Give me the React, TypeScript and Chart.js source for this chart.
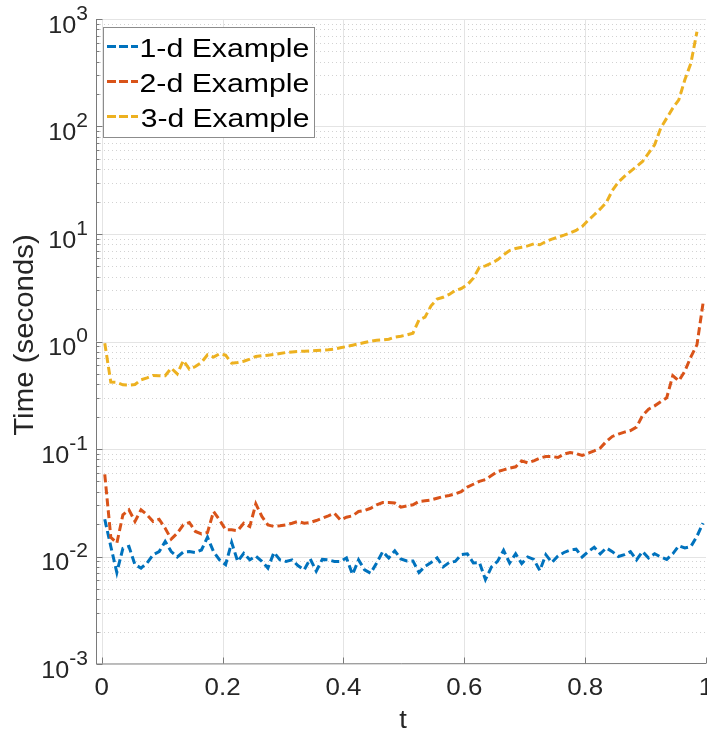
import React, { useEffect, useRef } from "react";
import { Chart, registerables } from "chart.js";

Chart.register(...registerables);

const tValues = [
  0.005, 0.015, 0.025, 0.035, 0.045, 0.055, 0.065, 0.075, 0.085, 0.095,
  0.105, 0.115, 0.125, 0.135, 0.145, 0.155, 0.165, 0.175, 0.185, 0.195,
  0.205, 0.215, 0.225, 0.235, 0.245, 0.255, 0.265, 0.275, 0.285, 0.295,
  0.305, 0.315, 0.325, 0.335, 0.345, 0.355, 0.365, 0.375, 0.385, 0.395,
  0.405, 0.415, 0.425, 0.435, 0.445, 0.455, 0.465, 0.475, 0.485, 0.495,
  0.505, 0.515, 0.525, 0.535, 0.545, 0.555, 0.565, 0.575, 0.585, 0.595,
  0.605, 0.615, 0.625, 0.635, 0.645, 0.655, 0.665, 0.675, 0.685, 0.695,
  0.705, 0.715, 0.725, 0.735, 0.745, 0.755, 0.765, 0.775, 0.785, 0.795,
  0.805, 0.815, 0.825, 0.835, 0.845, 0.855, 0.865, 0.875, 0.885, 0.895,
  0.905, 0.915, 0.925, 0.935, 0.945, 0.955, 0.965, 0.975, 0.985, 0.995,
];

const series1d = [
  0.0222, 0.0124, 0.0071, 0.0119, 0.0124, 0.0084, 0.0078, 0.0087, 0.0104, 0.0111,
  0.0138, 0.0111, 0.0099, 0.011, 0.0111, 0.0109, 0.0115, 0.0151, 0.0111, 0.0093,
  0.0084, 0.0135, 0.009, 0.0107, 0.0093, 0.0101, 0.009, 0.0078, 0.0109, 0.0093,
  0.009, 0.0093, 0.0082, 0.0075, 0.0095, 0.0073, 0.0094, 0.0093, 0.009, 0.009,
  0.0097, 0.0068, 0.0093, 0.0075, 0.007, 0.0087, 0.0111, 0.0097, 0.0113, 0.0095,
  0.0091, 0.0091, 0.0071, 0.0081, 0.0088, 0.0097, 0.008, 0.0088, 0.009, 0.0104,
  0.0106, 0.0087, 0.0088, 0.0061, 0.008, 0.009, 0.0114, 0.0087, 0.0106, 0.0086,
  0.0099, 0.0094, 0.0074, 0.0104, 0.0088, 0.0101, 0.0109, 0.0115, 0.0117, 0.0099,
  0.0111, 0.0122, 0.0106, 0.012, 0.0111, 0.01, 0.0104, 0.0111, 0.0093, 0.0111,
  0.0097, 0.0106, 0.0099, 0.0094, 0.0106, 0.0126, 0.012, 0.0124, 0.0154, 0.0204,
];

const series2d = [
  0.058, 0.0151, 0.0133, 0.0244, 0.0272, 0.0212, 0.0272, 0.0244, 0.0212, 0.0222,
  0.0183, 0.0145, 0.0165, 0.0197, 0.0207, 0.0171, 0.0162, 0.0167, 0.0262, 0.0219,
  0.0177, 0.0177, 0.0174, 0.0204, 0.019, 0.0309, 0.0236, 0.0197, 0.019, 0.0193,
  0.0197, 0.0204, 0.0212, 0.0204, 0.0207, 0.0216, 0.0227, 0.0239, 0.0253, 0.0219,
  0.0232, 0.0239, 0.0262, 0.0268, 0.0281, 0.0303, 0.0318, 0.0318, 0.0314, 0.0288,
  0.0296, 0.0303, 0.0325, 0.033, 0.0336, 0.0348, 0.0361, 0.0369, 0.0383, 0.0402,
  0.0442, 0.047, 0.05, 0.052, 0.0567, 0.0617, 0.064, 0.0663, 0.0683, 0.0776,
  0.0744, 0.0776, 0.0822, 0.0852, 0.0852, 0.0834, 0.0895, 0.0928, 0.0907, 0.087,
  0.0914, 0.0962, 0.102, 0.1175, 0.1308, 0.1375, 0.1434, 0.1486, 0.1596, 0.205,
  0.235, 0.252, 0.275, 0.3, 0.48, 0.43, 0.53, 0.72, 0.93, 2.25,
];

const series3d = [
  0.965, 0.419, 0.416, 0.395, 0.393, 0.398, 0.44, 0.459, 0.483, 0.48,
  0.48, 0.565, 0.5, 0.666, 0.553, 0.585, 0.638, 0.751, 0.715, 0.768,
  0.746, 0.629, 0.638, 0.656, 0.685, 0.725, 0.736, 0.746, 0.757, 0.773,
  0.79, 0.8, 0.807, 0.813, 0.819, 0.825, 0.831, 0.837, 0.849, 0.873,
  0.898, 0.924, 0.951, 0.979, 1.007, 1.029, 1.036, 1.051, 1.097, 1.12,
  1.15, 1.195, 1.59, 1.684, 2.15, 2.48, 2.58, 2.74, 2.98, 3.11,
  3.37, 3.88, 4.91, 5.05, 5.35, 5.75, 6.4, 7.02, 7.33, 7.54,
  7.76, 8.1, 7.95, 8.51, 8.95, 9.35, 9.75, 10.2, 10.8, 11.75,
  13.4, 15.1, 17.1, 19.6, 25.4, 30.4, 34.3, 38.2, 42.5, 47.3,
  56.5, 67.6, 96.5, 119.6, 148, 177, 272, 388, 760,
];

const seriesLabels = ["1-d Example", "2-d Example", "3-d Example"];
const seriesColors = ["#0072BD", "#D95319", "#EDB120"];
const xTicks = [0, 0.2, 0.4, 0.6, 0.8, 1];
const xTickLabels = ["0", "0.2", "0.4", "0.6", "0.8", "1"];
const yDecades = [-3, -2, -1, 0, 1, 2, 3];
const xTitle = "t";
const yTitle = "Time (seconds)";

const FONT = '"Liberation Sans", Arial, Helvetica, sans-serif';
const TEXT = "#262626";

function points(vals: number[]) {
  return vals.map((v, i) => ({ x: tValues[i], y: v }));
}

function fitInk(ctx: CanvasRenderingContext2D, text: string, left: number, right: number, baseline: number) {
  const m = ctx.measureText(text);
  const inkW = m.actualBoundingBoxLeft + m.actualBoundingBoxRight;
  const sx = (right - left) / inkW;
  ctx.save();
  ctx.translate(left, baseline);
  ctx.scale(sx, 1);
  ctx.textAlign = "left";
  ctx.fillText(text, m.actualBoundingBoxLeft, 0);
  ctx.restore();
}

function drawScaled(ctx: CanvasRenderingContext2D, text: string, x: number, y: number, sx: number, align: CanvasTextAlign) {
  ctx.save();
  ctx.translate(x, y);
  ctx.scale(sx, 1);
  ctx.textAlign = align;
  ctx.fillText(text, 0, 0);
  ctx.restore();
}

const matlabPlugin = {
  id: "matlabAxes",
  beforeDatasetsDraw(chart: any) {
    const { ctx, chartArea: a, scales } = chart;
    const xs = scales.x;
    const ys = scales.y;
    ctx.save();
    ctx.beginPath();
    ctx.rect(a.left, a.top, a.right - a.left, a.bottom - a.top);
    ctx.clip();
    ctx.lineWidth = 1;
    // minor y grid (dotted)
    ctx.strokeStyle = "#d2d2d2";
    ctx.setLineDash([1, 3]);
    for (let d = -3; d < 3; d++) {
      for (let m = 2; m <= 9; m++) {
        const y = Math.round(ys.getPixelForValue(m * Math.pow(10, d))) + 0.5;
        ctx.beginPath();
        ctx.moveTo(a.left, y);
        ctx.lineTo(a.right, y);
        ctx.stroke();
      }
    }
    ctx.setLineDash([]);
    ctx.strokeStyle = "#e4e4e4";
    for (const d of yDecades) {
      const y = Math.round(ys.getPixelForValue(Math.pow(10, d))) + 0.5;
      ctx.beginPath();
      ctx.moveTo(a.left, y);
      ctx.lineTo(a.right, y);
      ctx.stroke();
    }
    for (const t of xTicks) {
      const x = Math.round(xs.getPixelForValue(t)) + 0.5;
      ctx.beginPath();
      ctx.moveTo(x, a.top);
      ctx.lineTo(x, a.bottom);
      ctx.stroke();
    }
    ctx.restore();
  },
  afterDatasetsDraw(chart: any) {
    const { ctx, chartArea: a, scales } = chart;
    const xs = scales.x;
    const ys = scales.y;
    ctx.save();
    // axis lines
    ctx.strokeStyle = "#7a7a7a";
    ctx.lineWidth = 1;
    ctx.setLineDash([]);
    const axX = a.left + 0.5;
    const axY = a.bottom - 0.5;
    ctx.beginPath();
    ctx.moveTo(axX, a.top);
    ctx.lineTo(axX, a.bottom);
    ctx.lineTo(a.right, axY);
    ctx.stroke();
    // y ticks
    for (let d = -3; d <= 3; d++) {
      const y = Math.round(ys.getPixelForValue(Math.pow(10, d))) + 0.5;
      ctx.beginPath();
      ctx.moveTo(axX, y);
      ctx.lineTo(axX + 6, y);
      ctx.stroke();
      if (d < 3) {
        for (let m = 2; m <= 9; m++) {
          const ym = Math.round(ys.getPixelForValue(m * Math.pow(10, d))) + 0.5;
          ctx.beginPath();
          ctx.moveTo(axX, ym);
          ctx.lineTo(axX + 3, ym);
          ctx.stroke();
        }
      }
    }
    // x ticks
    for (const t of xTicks) {
      const x = Math.round(xs.getPixelForValue(t)) + 0.5;
      ctx.beginPath();
      ctx.moveTo(x, axY);
      ctx.lineTo(x, axY - 6);
      ctx.stroke();
    }
    // y tick labels
    ctx.fillStyle = TEXT;
    ctx.textBaseline = "alphabetic";
    for (const d of yDecades) {
      const yt = ys.getPixelForValue(Math.pow(10, d));
      const exp = String(d);
      ctx.font = `20px ${FONT}`;
      const ew = ctx.measureText(exp).width * 1.05;
      drawScaled(ctx, exp, 88, yt + 0.5, 1.05, "right");
      ctx.font = `24px ${FONT}`;
      drawScaled(ctx, "10", 88 - ew, yt + 13.5, 1.05, "right");
    }
    // x tick labels
    ctx.font = `24px ${FONT}`;
    xTicks.forEach((t, i) => {
      const x = xs.getPixelForValue(t);
      drawScaled(ctx, xTickLabels[i], x, 694.5, 1.08, "center");
    });
    // x title
    ctx.font = `26px ${FONT}`;
    drawScaled(ctx, xTitle, (a.left + a.right) / 2 + 2, 728, 1.05, "center");
    // y title
    ctx.font = `28px ${FONT}`;
    ctx.save();
    ctx.translate(33, 335);
    ctx.rotate(-Math.PI / 2);
    ctx.scale(1.05, 1);
    ctx.textAlign = "center";
    ctx.fillText(yTitle, 0, 0);
    ctx.restore();
    // legend
    ctx.fillStyle = "#ffffff";
    ctx.fillRect(103.5, 27.5, 211, 110);
    ctx.strokeStyle = "#8c8c8c";
    ctx.lineWidth = 1;
    ctx.strokeRect(103.5, 27.5, 211, 110);
    const rows = [47.5, 82.5, 117.5];
    seriesLabels.forEach((lab, i) => {
      const yc = rows[i];
      ctx.strokeStyle = seriesColors[i];
      ctx.lineWidth = 3;
      ctx.setLineDash([9, 3]);
      ctx.beginPath();
      ctx.moveTo(107, yc - 1);
      ctx.lineTo(138, yc - 1);
      ctx.stroke();
      ctx.setLineDash([]);
      ctx.fillStyle = "#000000";
      ctx.font = `25px ${FONT}`;
      fitInk(ctx, lab, 140.7, 308.3, yc + 9);
    });
    ctx.restore();
  },
};

export default function App() {
  const canvasRef = useRef<HTMLCanvasElement | null>(null);

  useEffect(() => {
    const canvas = canvasRef.current;
    if (!canvas) return;
    const allSeries = [series1d, series2d, series3d];
    const chart = new Chart(canvas, {
      type: "line",
      data: {
        datasets: allSeries.map((vals, i) => ({
          label: seriesLabels[i],
          data: points(vals),
          borderColor: seriesColors[i],
          backgroundColor: seriesColors[i],
          borderWidth: 3,
          borderDash: [8, 4],
          borderCapStyle: "butt",
          borderJoinStyle: "miter",
          pointRadius: 0,
          tension: 0,
          fill: false,
          order: 2 - i,
        })),
      },
      options: {
        animation: false,
        responsive: false,
        devicePixelRatio: 1,
        events: [],
        layout: { padding: { left: 96, right: 1, top: 19, bottom: 67 } },
        plugins: {
          legend: { display: false },
          tooltip: { enabled: false },
          title: { display: false },
        },
        scales: {
          x: { type: "linear", display: false, min: -0.0095, max: 1 },
          y: { type: "logarithmic", display: false, min: 0.001, max: 1000 },
        },
      },
      plugins: [matlabPlugin],
    } as any);
    return () => chart.destroy();
  }, []);

  return (
    <div style={{ position: "absolute", left: 0, top: 0, width: 707, height: 731, background: "#ffffff" }}>
      <canvas ref={canvasRef} width={707} height={731} style={{ display: "block" }} />
    </div>
  );
}
